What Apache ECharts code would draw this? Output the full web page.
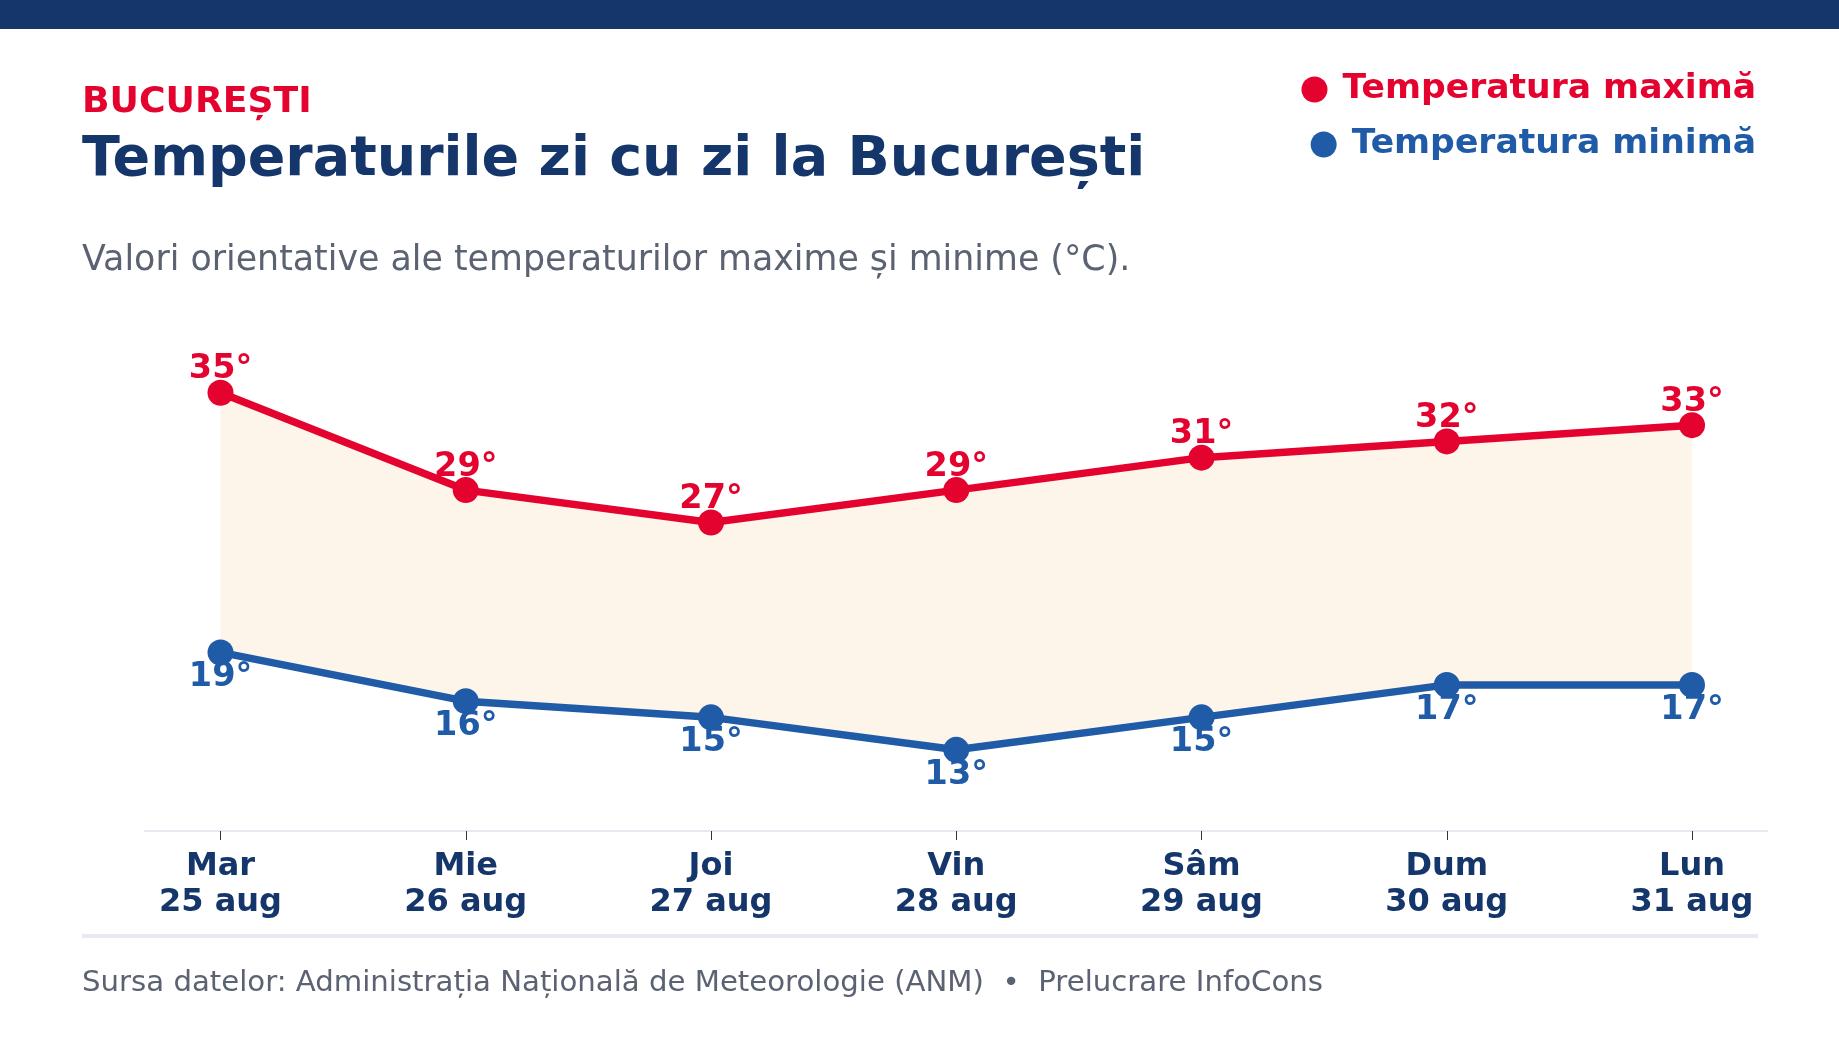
<!DOCTYPE html>
<html>
<head>
<meta charset="utf-8">
<script src="https://cdn.jsdelivr.net/npm/echarts@6/dist/echarts.min.js"></script>
<style>
html,body{margin:0;padding:0;background:#fff;}
#chart{width:1839px;height:1040px;}
</style>
</head>
<body>
<div id="chart"></div>
<script>
const categories = ['Mar\n25 aug','Mie\n26 aug','Joi\n27 aug','Vin\n28 aug','Sâm\n29 aug','Dum\n30 aug','Lun\n31 aug'];
const maxTemps = [35, 29, 27, 29, 31, 32, 33];
const minTemps = [19, 16, 15, 13, 15, 17, 17];
const seriesNames = ['Temperatura maximă', 'Temperatura minimă'];

const RED = '#e4032e';
const BLUE = '#1f5ba6';
const NAVY = '#15366b';
const GRAY = '#5b6272';
const FONT = 'DejaVu Sans';

const bandDiff = maxTemps.map((v, i) => v - minTemps[i]);

const chart = echarts.init(document.getElementById('chart'), null, {renderer: 'canvas'});
chart.setOption({
  animation: false,
  backgroundColor: '#ffffff',
  textStyle: {fontFamily: FONT},
  title: [
    {text: 'BUCUREȘTI', left: 82, top: 85, padding: 0,
     textStyle: {color: RED, fontSize: 36.2, fontWeight: 'bold', fontFamily: FONT}},
    {text: 'Temperaturile zi cu zi la București', left: 82, top: 133, padding: 0,
     textStyle: {color: NAVY, fontSize: 55.5, fontWeight: 'bold', fontFamily: FONT}},
    {text: 'Valori orientative ale temperaturilor maxime și minime (°C).', left: 82, top: 243, padding: 0,
     textStyle: {color: GRAY, fontSize: 34.8, fontWeight: 'normal', fontFamily: FONT}},
    {text: 'Sursa datelor: Administrația Națională de Meteorologie (ANM)  •  Prelucrare InfoCons', left: 82, top: 969, padding: 0,
     textStyle: {color: GRAY, fontSize: 29.2, fontWeight: 'normal', fontFamily: FONT}}
  ],
  legend: [
    {data: [{name: seriesNames[0], textStyle: {color: RED}}], right: 83, top: 72, padding: 0,
     icon: 'circle', itemWidth: 46, itemHeight: 26, selectedMode: false,
     textStyle: {fontSize: 34.6, fontWeight: 'bold', fontFamily: FONT}},
    {data: [{name: seriesNames[1], textStyle: {color: BLUE}}], right: 83, top: 127, padding: 0,
     icon: 'circle', itemWidth: 46, itemHeight: 26, selectedMode: false,
     textStyle: {fontSize: 34.6, fontWeight: 'bold', fontFamily: FONT}}
  ],
  graphic: [
    {type: 'rect', left: 0, top: 0, shape: {width: 1839, height: 29}, style: {fill: NAVY}},
    {type: 'rect', left: 82, top: 934, shape: {width: 1676, height: 4}, style: {fill: '#e8eaf2'}}
  ],
  grid: [
    {left: 220.5, right: 147, top: 344, bottom: 209},
    {left: 145, right: 72, top: 344, bottom: 209}
  ],
  xAxis: [
    {type: 'category', gridIndex: 0, data: categories, boundaryGap: false,
     axisLine: {show: false},
     axisTick: {show: true, length: 9, lineStyle: {color: '#333', width: 1}},
     axisLabel: {interval: 0, margin: 18, color: NAVY, fontSize: 32, fontWeight: 'bold', lineHeight: 36, fontFamily: FONT},
     splitLine: {show: false}},
    {type: 'value', gridIndex: 1, min: 0, max: 1,
     axisLine: {show: true, lineStyle: {color: '#e6e9ef', width: 2}},
     axisTick: {show: false}, axisLabel: {show: false}, splitLine: {show: false}}
  ],
  yAxis: [
    {type: 'value', gridIndex: 0, min: 8, max: 38, show: false, splitLine: {show: false}},
    {type: 'value', gridIndex: 1, min: 0, max: 1, show: false, splitLine: {show: false}}
  ],
  series: [
    {name: 'band-base', type: 'line', data: minTemps, stack: 'band', symbol: 'none', silent: true,
     lineStyle: {width: 0, opacity: 0}, z: 1},
    {name: 'band', type: 'line', data: bandDiff, stack: 'band', symbol: 'none', silent: true,
     lineStyle: {width: 0, opacity: 0}, areaStyle: {color: '#fdf5ea', opacity: 1}, z: 1},
    {name: seriesNames[0], type: 'line', data: maxTemps, color: RED, z: 3,
     symbol: 'circle', symbolSize: 26, lineStyle: {width: 7.5, color: RED}, itemStyle: {color: RED},
     label: {show: true, position: 'top', distance: -7, formatter: '{c}°', color: RED,
             fontSize: 33.5, fontWeight: 'bold', fontFamily: FONT}},
    {name: seriesNames[1], type: 'line', data: minTemps, color: BLUE, z: 3,
     symbol: 'circle', symbolSize: 26, lineStyle: {width: 7.5, color: BLUE}, itemStyle: {color: BLUE},
     label: {show: true, position: 'bottom', distance: -5, formatter: '{c}°', color: BLUE,
             fontSize: 33.5, fontWeight: 'bold', fontFamily: FONT}}
  ]
});
</script>
</body>
</html>
